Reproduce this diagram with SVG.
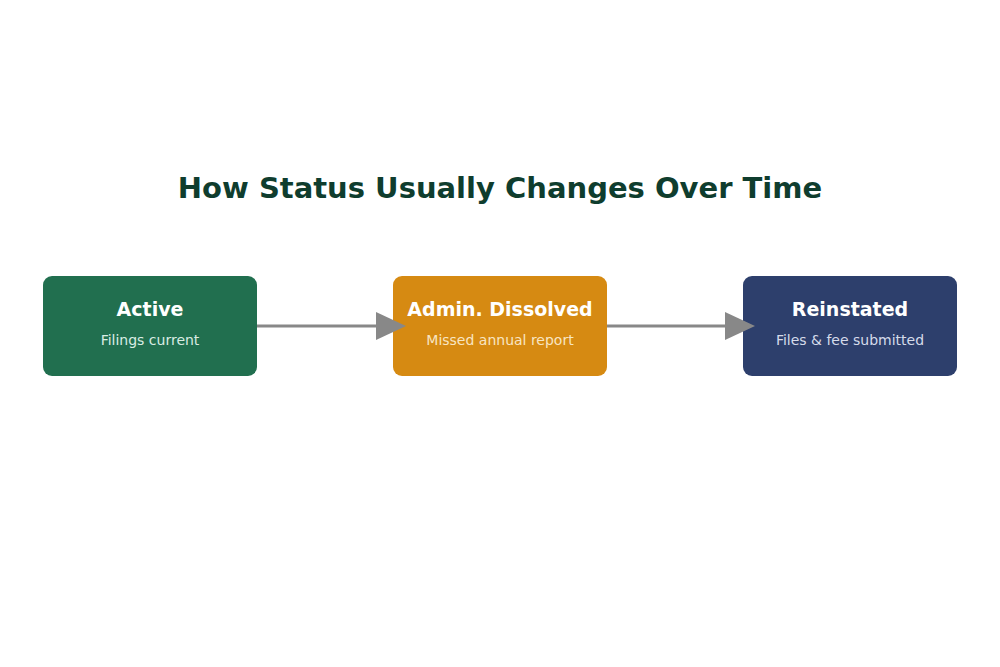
<svg xmlns="http://www.w3.org/2000/svg" width="1000" height="667" viewBox="0 0 1000 667">
<style>
.title{font-family:"DejaVu Sans",sans-serif;font-weight:bold;font-size:29px;fill:#0f3d2e;text-anchor:middle}
.nt{font-family:"DejaVu Sans",sans-serif;font-weight:bold;font-size:19px;fill:#ffffff;text-anchor:middle}
.ns{font-family:"DejaVu Sans",sans-serif;font-size:14px;text-anchor:middle}
.edge{stroke:#888888;stroke-width:3;fill:none}
</style>
<defs>
<marker id="arr" markerUnits="userSpaceOnUse" markerWidth="30" markerHeight="28" refX="0" refY="14" orient="auto" overflow="visible">
<path d="M0,0 L30,14 L0,28 Z" fill="#888888"/>
</marker>
</defs>
<rect width="1000" height="667" fill="#ffffff"/>
<text class="title" x="500" y="198">How Status Usually Changes Over Time</text>
<g id="node-active">
<rect x="43" y="276" width="214" height="100" rx="9" fill="#216f4f"/>
<text class="nt" x="150" y="316">Active</text>
<text class="ns" x="150" y="345" fill="#d9ece3">Filings current</text>
</g>
<g id="node-dissolved">
<rect x="393" y="276" width="214" height="100" rx="9" fill="#d68a12"/>
<text class="nt" x="500" y="316">Admin. Dissolved</text>
<text class="ns" x="500" y="345" fill="#f8e5c2">Missed annual report</text>
</g>
<g id="node-reinstated">
<rect x="743" y="276" width="214" height="100" rx="9" fill="#2d3f6c"/>
<text class="nt" x="850" y="316">Reinstated</text>
<text class="ns" x="850" y="345" fill="#d5dbea">Files &amp; fee submitted</text>
</g>
<g id="connectors">
<line class="edge" x1="257" y1="326" x2="376" y2="326" marker-end="url(#arr)"/>
<line class="edge" x1="607" y1="326" x2="725" y2="326" marker-end="url(#arr)"/>
</g>
</svg>
